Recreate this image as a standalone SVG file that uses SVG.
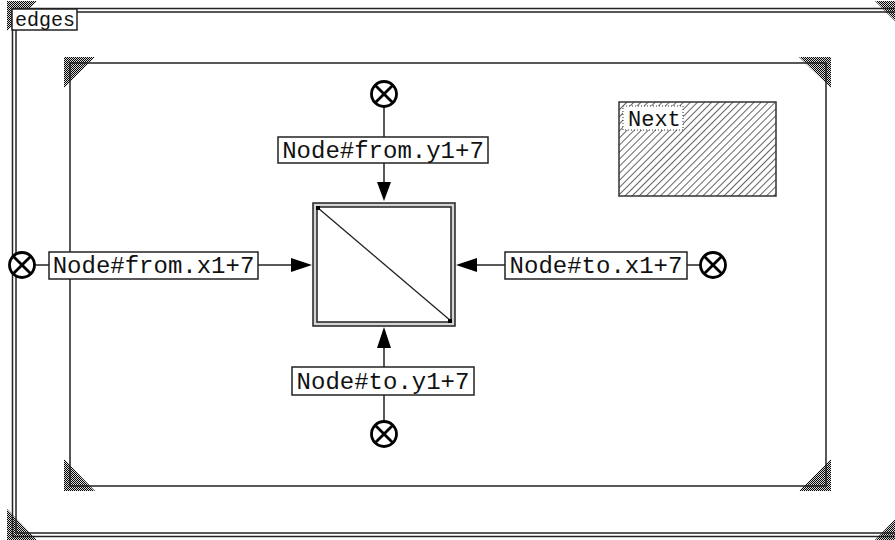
<svg xmlns="http://www.w3.org/2000/svg" width="895" height="540" viewBox="0 0 895 540">
<style>
.ln{stroke:#222;stroke-width:1.5;fill:none}
.box{fill:#fff;stroke:#222;stroke-width:1.5}
.lbl{font-family:"Liberation Mono","DejaVu Sans Mono",monospace;font-size:24px;fill:#111;text-anchor:middle}
.circ{fill:#fff;stroke:#000;stroke-width:2.8}
.arr{fill:#000}
.tri{fill:url(#checker)}
</style>
<defs>
<pattern id="checker" width="2" height="2" patternUnits="userSpaceOnUse">
<rect width="2" height="2" fill="#d8d8d8"/>
<rect x="0" y="0" width="1" height="1" fill="#000"/>
<rect x="1" y="1" width="1" height="1" fill="#000"/>
</pattern>
<pattern id="hatch" width="5" height="5" patternUnits="userSpaceOnUse" patternTransform="rotate(45)">
<rect width="5" height="5" fill="#fff"/>
<line x1="0" y1="0" x2="0" y2="5" stroke="#222" stroke-width="1.4"/>
</pattern>
<g id="xc">
<circle cx="0" cy="0" r="12.5" class="circ"/>
<line x1="-8.8" y1="-8.8" x2="8.8" y2="8.8" stroke="#000" stroke-width="2.8"/>
<line x1="-8.8" y1="8.8" x2="8.8" y2="-8.8" stroke="#000" stroke-width="2.8"/>
</g>
</defs>
<rect width="895" height="540" fill="#fff"/>
<!-- outer frame -->
<g id="outer-frame">
<polygon class="tri" points="7,1 37,1 7,31"/>
<polygon class="tri" points="875,1 905,1 905,31"/>
<polygon class="tri" points="7,509 7,540 37,540"/>
<polygon class="tri" points="905,509 905,540 875,540"/>
<rect x="12.5" y="8.5" width="892" height="528" class="ln"/>
<rect x="16" y="12" width="885" height="521" class="ln"/>
<rect x="12" y="9" width="65" height="21" class="box"/>
<text x="15" y="26" style="font-family:'Liberation Mono','DejaVu Sans Mono',monospace;font-size:20px;fill:#111">edges</text>
</g>
<!-- inner frame -->
<g id="inner-frame">
<polygon class="tri" points="64,57 95,57 64,88"/>
<polygon class="tri" points="799,57 831,57 831,88"/>
<polygon class="tri" points="64,459 64,491 95,491"/>
<polygon class="tri" points="831,459 831,491 799,491"/>
<rect x="70" y="63" width="756" height="423" class="ln"/>
</g>
<!-- Next -->
<g id="next">
<rect x="619" y="102" width="157" height="94" fill="url(#hatch)" stroke="#333" stroke-width="1.5"/>
<rect x="623" y="106" width="60" height="24" fill="#fff" stroke="#333" stroke-width="1" stroke-dasharray="1,2"/>
<text x="628" y="126" style="font-family:'Liberation Mono','DejaVu Sans Mono',monospace;font-size:22px;fill:#111">Next</text>
</g>
<!-- connectors -->
<g id="connectors">
<line x1="384" y1="106" x2="384" y2="137" class="ln"/>
<line x1="384" y1="163" x2="384" y2="190" class="ln"/>
<polygon class="arr" points="377,182 391,182 384,201"/>
<line x1="35" y1="265" x2="49" y2="265" class="ln"/>
<line x1="258" y1="265" x2="300" y2="265" class="ln"/>
<polygon class="arr" points="291,258 291,272 312,265"/>
<line x1="470" y1="265" x2="505" y2="265" class="ln"/>
<line x1="687" y1="265" x2="701" y2="265" class="ln"/>
<polygon class="arr" points="477,258 477,272 456,265"/>
<line x1="384" y1="340" x2="384" y2="367" class="ln"/>
<line x1="384" y1="395" x2="384" y2="422" class="ln"/>
<polygon class="arr" points="377,348 391,348 384,327"/>
</g>
<!-- central node -->
<g id="node-main">
<rect x="313" y="203" width="142" height="123" fill="#d4d4d4" stroke="#222" stroke-width="1.5"/>
<rect x="317" y="207" width="134" height="115" fill="#fff" stroke="#222" stroke-width="1.5"/>
<line x1="318" y1="208" x2="451" y2="321" stroke="#222" stroke-width="1.3"/>
<rect x="316" y="206" width="4" height="4" fill="#000"/>
<rect x="448" y="319" width="4" height="4" fill="#000"/>
</g>
<!-- labels -->
<g id="label-from-y">
<rect x="278" y="137" width="210" height="26" class="box"/>
<text x="383" y="158" class="lbl">Node#from.y1+7</text>
</g>
<g id="label-from-x">
<rect x="49" y="252" width="209" height="27" class="box"/>
<text x="153.5" y="273" class="lbl">Node#from.x1+7</text>
</g>
<g id="label-to-x">
<rect x="505" y="252" width="182" height="27" class="box"/>
<text x="596" y="273" class="lbl">Node#to.x1+7</text>
</g>
<g id="label-to-y">
<rect x="292" y="367" width="182" height="28" class="box"/>
<text x="383" y="389" class="lbl">Node#to.y1+7</text>
</g>
<!-- endpoint circles -->
<g id="end-top"><use href="#xc" x="384" y="94"/></g>
<g id="end-left"><use href="#xc" x="22" y="265"/></g>
<g id="end-right"><use href="#xc" x="713" y="265"/></g>
<g id="end-bottom"><use href="#xc" x="384" y="434"/></g>
</svg>
